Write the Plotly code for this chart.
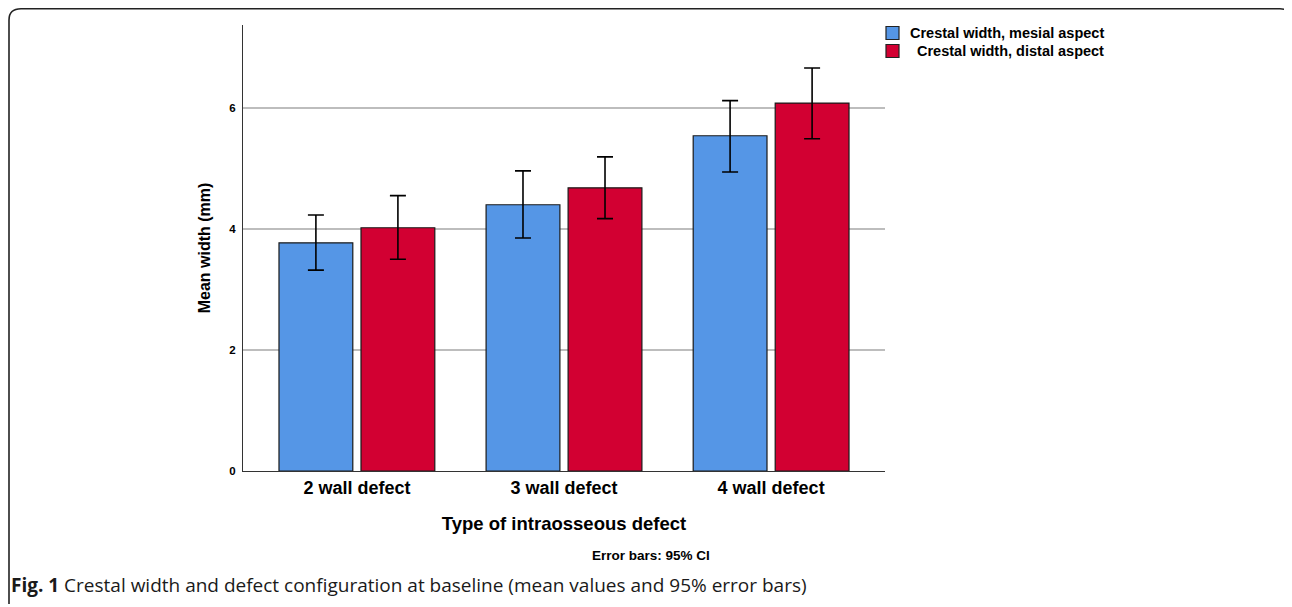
import plotly.graph_objects as go

categories = ["2 wall defect", "3 wall defect", "4 wall defect"]
series_names = ["Crestal width, mesial aspect", "Crestal width, distal aspect"]
series_colors = ["#5596E6", "#D20032"]
mesial_mean = [3.77, 4.40, 5.54]
mesial_ci_low = [3.32, 3.85, 4.94]
mesial_ci_high = [4.23, 4.96, 6.12]
distal_mean = [4.02, 4.68, 6.08]
distal_ci_low = [3.50, 4.17, 5.49]
distal_ci_high = [4.55, 5.19, 6.66]
y_ticks = [0, 2, 4, 6]

OFF = 8  # page body margin
W, H = 1292 - OFF, 607 - OFF
L, R, T, B = 243, 885, 25, 471  # plot area in window pixels

def px(x):
    return (x - L) / (R - L)

def py(y):
    return (B - y) / (B - T)

FONT = "Liberation Sans, Arial, sans-serif"

def bar(name, mean, lo, hi, color):
    return go.Bar(
        name=name, x=categories, y=mean, showlegend=False,
        marker=dict(color=color, line=dict(color="#1a1a1a", width=1.2)),
        error_y=dict(type="data", symmetric=False,
                     array=[h - m for h, m in zip(hi, mean)],
                     arrayminus=[m - l for m, l in zip(mean, lo)],
                     color="black", thickness=1.6, width=8),
    )

fig = go.Figure([
    bar(series_names[0], mesial_mean, mesial_ci_low, mesial_ci_high, series_colors[0]),
    bar(series_names[1], distal_mean, distal_ci_low, distal_ci_high, series_colors[1]),
])

border = (f"M {px(9)},{py(604)} L {px(9)},{py(20)} Q {px(9)},{py(8.8)} {px(21)},{py(8.8)} "
          f"L {px(1280)},{py(8.8)} Q {px(1289)},{py(8.8)} {px(1291)},{py(16)}")

shapes = [dict(type="path", xref="paper", yref="paper", path=border,
               line=dict(color="#222", width=1.6))]
annotations = []
leg_rows = [33, 51]
for name, color, yy in zip(series_names, series_colors, leg_rows):
    shapes.append(dict(type="rect", xref="paper", yref="paper",
                       x0=px(886), x1=px(899), y0=py(yy - 6.5), y1=py(yy + 6.5),
                       fillcolor=color, line=dict(color="#222", width=1.2)))
    annotations.append(dict(text=name, xref="paper", yref="paper",
                            x=px(1106), y=py(yy), xanchor="right", yanchor="middle",
                            showarrow=False,
                            font=dict(size=14.5, weight="bold", family=FONT, color="black")))

annotations += [
    dict(text="Error bars: 95% CI", xref="paper", yref="paper",
         x=px(651), y=py(555), xanchor="center", yanchor="middle",
         showarrow=False, font=dict(size=13.5, weight="bold", family=FONT)),
    dict(text="<b>Fig. 1</b> Crestal width and defect configuration at baseline (mean values and 95% error bars)",
         xref="paper", yref="paper", x=px(9), y=py(585),
         xanchor="left", yanchor="middle", showarrow=False,
         font=dict(size=19, family="Open Sans, sans-serif", color="#1a1a1a")),
]

fig.update_layout(
    width=W, height=H,
    margin=dict(l=L - OFF, r=W - (R - OFF), t=T - OFF, b=H - (B - OFF), pad=0),
    paper_bgcolor="white", plot_bgcolor="white",
    barmode="group", bargap=0.208, bargroupgap=0.1,
    font=dict(family=FONT, color="black"),
    showlegend=False,
    xaxis=dict(range=[-0.55, 2.55], showgrid=False, showline=True,
               linecolor="#333", linewidth=1.2, ticks="",
               tickfont=dict(size=18, weight="bold"),
               title=dict(text="Type of intraosseous defect", standoff=20,
                          font=dict(size=18.5, weight="bold"))),
    yaxis=dict(range=[0, 7.37], tickvals=y_ticks, showgrid=True,
               gridcolor="#bdbdbd", gridwidth=1.5, zeroline=False,
               showline=True, linecolor="#333", linewidth=1.2, ticks="",
               ticklabelstandoff=4,
               tickfont=dict(size=11.5, weight="bold"),
               title=dict(text="Mean width (mm)", standoff=14,
                          font=dict(size=16, weight="bold"))),
    shapes=shapes,
    annotations=annotations,
)

fig.write_html("out.html")
